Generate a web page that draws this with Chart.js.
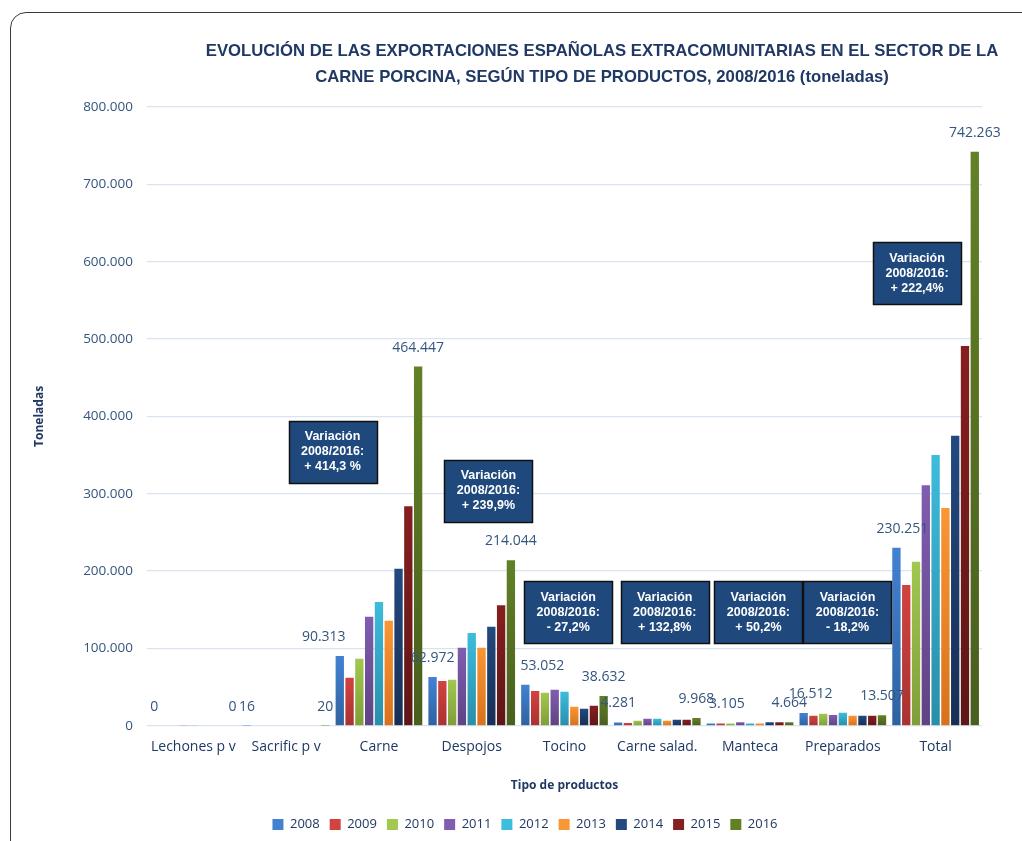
<!DOCTYPE html>
<html lang="es">
<head>
<meta charset="UTF-8">
<title>Exportaciones extracomunitarias carne porcina 2008/2016</title>
<script src="https://cdn.jsdelivr.net/npm/chart.js"></script>
<style>
  body { margin: 0; background: #fff; }
  .frame {
    position: absolute; left: 10px; top: 12px; width: 1040px; height: 900px;
    border: 1.5px solid #3a3a3a; border-radius: 16px;
  }
  .wrap { position: absolute; left: 0; top: 0; width: 1022px; height: 841px; }
</style>
</head>
<body>
<div class="frame"></div>
<div class="wrap"><canvas id="chart" width="1022" height="841"></canvas></div>
<script>
const categories = ['Lechones p v', 'Sacrific p v', 'Carne', 'Despojos', 'Tocino',
                    'Carne salad.', 'Manteca', 'Preparados', 'Total'];
const years = ['2008', '2009', '2010', '2011', '2012', '2013', '2014', '2015', '2016'];

// toneladas por año, en el orden de categories
const v2008 = [0, 16, 90313, 62972, 53052, 4281, 3105, 16512, 230251];
const v2009 = [0, 0, 62000, 58000, 45000, 3500, 3000, 13000, 182000];
const v2010 = [0, 0, 86600, 59400, 42600, 6500, 3000, 15500, 212000];
const v2011 = [400, 0, 141000, 100800, 46500, 9000, 4500, 14000, 311000];
const v2012 = [400, 0, 160000, 120000, 44000, 9000, 3000, 17000, 350000];
const v2013 = [0, 600, 135700, 100800, 24500, 6500, 3000, 13000, 281600];
const v2014 = [0, 600, 203000, 128000, 22000, 7700, 4500, 13000, 375000];
const v2015 = [0, 600, 284000, 156000, 25800, 7700, 4500, 13000, 491000];
const v2016 = [0, 20, 464447, 214044, 38632, 9968, 4664, 13507, 742263];
const series = [v2008, v2009, v2010, v2011, v2012, v2013, v2014, v2015, v2016];

const yTicks = [0, 100000, 200000, 300000, 400000, 500000, 600000, 700000, 800000];

// variación 2008/2016 por categoría
const variationText = ['+ 414,3 %', '+ 239,9%', '- 27,2%', '+ 132,8%', '+ 50,2%', '- 18,2%', '+ 222,4%'];
// where each box sits: category position and value at its centre
const variationAnchor = [[1.5, 354000], [3.18, 304000], [4.04, 147000], [5.08, 147000],
                         [6.09, 147000], [7.05, 147000], [7.8, 585000]];

// sideways nudge (px) of the 2008 value labels so they clear neighbouring bars
const labelNudge2008 = [0, 0, -16, 0, 17, 0, 16, 7, 6];

const colorsTop = ['#4282d2', '#d2433f', '#a2c84f', '#805db0', '#3dbcdc', '#fb9634', '#23497f', '#861f1f', '#628127'];
const colorsBottom = ['#30629f', '#a83230', '#7f9e37', '#5f4384', '#2a8ea8', '#d7721c', '#172f55', '#5e1616', '#485f1d'];

const DARK = '#1f3864';

function fmt(n) {
  return String(n).replace(/\B(?=(\d{3})+(?!\d))/g, '.');
}

function barFill(i) {
  return ctx => {
    const chart = ctx.chart;
    const y = chart.scales.y;
    if (!chart.chartArea || !y || ctx.type !== 'data') return colorsTop[i];
    const top = y.getPixelForValue(ctx.raw);
    const bottom = y.getPixelForValue(0);
    if (!(bottom - top > 1)) return colorsTop[i];
    const g = chart.ctx.createLinearGradient(0, top, 0, bottom);
    g.addColorStop(0, colorsTop[i]);
    g.addColorStop(1, colorsBottom[i]);
    return g;
  };
}

const datasets = years.map((yr, i) => ({
  label: yr,
  data: series[i],
  backgroundColor: barFill(i),
  borderWidth: 0,
  categoryPercentage: 0.95,
  barPercentage: 0.85
}));

// heading drawn centred over the bars
const titlePlugin = {
  id: 'heading',
  afterDraw(chart) {
    const c = chart.ctx;
    c.save();
    c.fillStyle = DARK;
    c.font = 'bold 16.7px "Liberation Sans", Arial, sans-serif';
    c.textAlign = 'center';
    c.textBaseline = 'middle';
    c.fillText('EVOLUCIÓN DE LAS EXPORTACIONES ESPAÑOLAS EXTRACOMUNITARIAS EN EL SECTOR DE LA', 602, 51);
    c.fillText('CARNE PORCINA, SEGÚN TIPO DE PRODUCTOS, 2008/2016 (toneladas)', 602, 77);
    c.restore();
  }
};

// legend sits a little right of the canvas centre
const legendShift = {
  id: 'legendShift',
  afterLayout(chart) {
    if (chart.legend) {
      chart.legend.left += 20;
      chart.legend.right += 20;
    }
  }
};

// values for the first and last year above their bars
const valueLabels = {
  id: 'valueLabels',
  afterDatasetsDraw(chart) {
    const c = chart.ctx;
    c.save();
    c.fillStyle = '#34557f';
    c.font = '14px "Open Sans", "Liberation Sans", sans-serif';
    c.textAlign = 'center';
    c.textBaseline = 'middle';
    [0, years.length - 1].forEach(di => {
      const meta = chart.getDatasetMeta(di);
      meta.data.forEach((bar, k) => {
        const dx = di === 0 ? labelNudge2008[k] : 0;
        c.fillText(fmt(series[di][k]), bar.x + dx, bar.y - 19);
      });
    });
    c.restore();
  }
};

// dark boxes with the 2008/2016 change
const variationBoxes = {
  id: 'variationBoxes',
  afterDatasetsDraw(chart) {
    const c = chart.ctx;
    const xs = chart.scales.x, ys = chart.scales.y;
    const w = 88, h = 62;
    c.save();
    variationText.forEach((txt, i) => {
      const cx = xs.getPixelForValue(variationAnchor[i][0]);
      const cy = ys.getPixelForValue(variationAnchor[i][1]);
      const x = Math.round(cx - w / 2) + 0.5, y = Math.round(cy - h / 2) + 0.5;
      c.fillStyle = '#1f497d';
      c.fillRect(x, y, w, h);
      c.strokeStyle = '#111';
      c.lineWidth = 1.5;
      c.strokeRect(x, y, w, h);
      c.fillStyle = '#fff';
      c.font = 'bold 12.5px "Liberation Sans", Arial, sans-serif';
      c.textAlign = 'center';
      c.textBaseline = 'middle';
      ['Variación', '2008/2016:', txt].forEach((line, j) => {
        c.fillText(line, cx, cy - 15 + j * 15);
      });
    });
    c.restore();
  }
};

new Chart(document.getElementById('chart'), {
  type: 'bar',
  data: { labels: categories, datasets },
  plugins: [titlePlugin, legendShift, valueLabels, variationBoxes],
  options: {
    responsive: false,
    animation: false,
    layout: { padding: { left: 28, right: 40, top: 107, bottom: 0 } },
    scales: {
      x: {
        grid: { display: false },
        border: { display: false },
        ticks: {
          color: DARK, font: { size: 14, family: '"Open Sans", "Liberation Sans", sans-serif' },
          maxRotation: 0, autoSkip: false, padding: 5
        },
        title: {
          display: true, text: 'Tipo de productos', color: DARK,
          font: { size: 12, weight: 'bold', family: '"Open Sans", "Liberation Sans", sans-serif' },
          padding: { top: 18, bottom: 15 }
        }
      },
      y: {
        min: 0, max: 800000,
        afterBuildTicks: s => { s.ticks = yTicks.map(v => ({ value: v })); },
        afterFit: s => { s.width = 119; },
        grid: { color: '#d9e4f1', lineWidth: 1.2, drawTicks: false },
        border: { display: false },
        ticks: {
          color: '#34557f', font: { size: 13.5, family: '"Open Sans", "Liberation Sans", sans-serif' },
          padding: 14, callback: v => fmt(v)
        },
        title: {
          display: true, text: 'Toneladas', color: DARK,
          font: { size: 12, weight: 'bold', family: '"Open Sans", "Liberation Sans", sans-serif' }
        }
      }
    },
    plugins: {
      title: { display: false },
      tooltip: { enabled: false },
      legend: {
        position: 'bottom',
        labels: {
          boxWidth: 11, boxHeight: 11, padding: 10, color: DARK,
          font: { size: 13, family: '"Open Sans", "Liberation Sans", sans-serif' },
          generateLabels: chart => years.map((yr, i) => ({
            text: yr, fillStyle: colorsTop[i], strokeStyle: colorsTop[i],
            lineWidth: 0, datasetIndex: i, hidden: false, fontColor: DARK
          }))
        }
      }
    }
  }
});
</script>
</body>
</html>
